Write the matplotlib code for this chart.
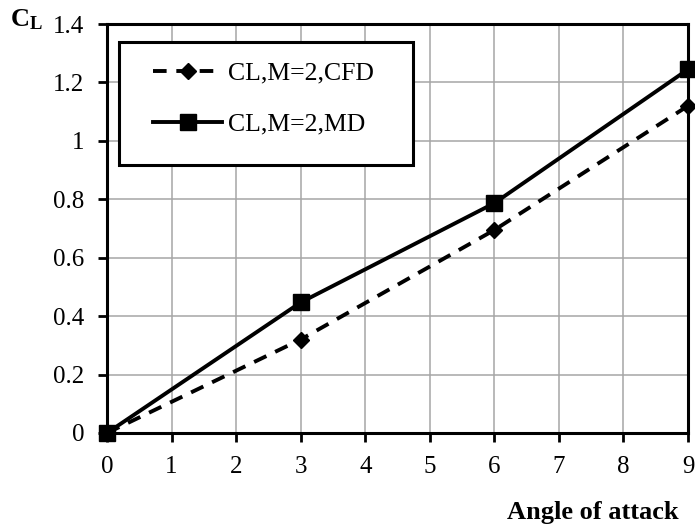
import matplotlib
matplotlib.use('Agg')
import matplotlib.pyplot as plt
from matplotlib.patches import Rectangle

# ── Data ───────────────────────────────────────────────────────────────────
alpha_deg = [0, 3, 6, 9]
cl_cfd    = [0.0, 0.32, 0.695, 1.12]
cl_md     = [0.0, 0.447, 0.787, 1.245]

x_ticks = list(range(0, 10))
y_ticks = [0, 0.2, 0.4, 0.6, 0.8, 1.0, 1.2, 1.4]
y_labels = ['0', '0.2', '0.4', '0.6', '0.8', '1', '1.2', '1.4']

# ── Style ──────────────────────────────────────────────────────────────────
plt.rcParams.update({
    'font.family': 'Liberation Serif',
    'mathtext.fontset': 'custom',
    'mathtext.rm': 'Liberation Serif',
    'mathtext.bf': 'Liberation Serif:bold',
})

fig = plt.figure(figsize=(6.95, 5.29), dpi=100)
ax = fig.add_axes([0.154, 0.1815, 0.836, 0.773])

ax.plot(alpha_deg, cl_cfd, color='black', linewidth=2.8, dashes=(3.5, 2.5),
        marker='D', markersize=8, clip_on=False, zorder=3, label='CL,M=2,CFD')
ax.plot(alpha_deg, cl_md, color='black', linewidth=2.8, linestyle='-',
        marker='s', markersize=11, clip_on=False, zorder=3, label='CL,M=2,MD')

ax.set_xlim(0, 9)
ax.set_ylim(0, 1.4)
ax.set_xticks(x_ticks)
ax.set_yticks(y_ticks)
ax.set_yticklabels(y_labels)
ax.tick_params(axis='both', direction='out', length=6.5, width=2.0,
               labelsize=18, pad=10, colors='black')
ax.grid(True, color='#a6a6a6', linewidth=1.1)
ax.set_axisbelow(True)
for sp in ax.spines.values():
    sp.set_linewidth(2.2)
    sp.set_color('black')

# legend box drawn as its own patch so the padding can be wider than tall
ax.add_patch(Rectangle((0.0207, 0.655), 0.506, 0.301, transform=ax.transAxes,
                       facecolor='white', edgecolor='black', linewidth=2.2,
                       zorder=4))
leg = ax.legend(loc='upper left', bbox_to_anchor=(0.0792, 0.908),
                fontsize=18.5, handlelength=2.7, handletextpad=0.2,
                labelspacing=1.1, borderpad=0, borderaxespad=0,
                frameon=False)
leg.set_zorder(5)

fig.text(0.014, 0.962, r'$\mathbf{C_L}$', fontsize=19, ha='left', va='center')
fig.text(0.853, 0.032, 'Angle of attack', fontsize=19, fontweight='bold',
         ha='center', va='center')

fig.savefig('out.png', dpi=100)
